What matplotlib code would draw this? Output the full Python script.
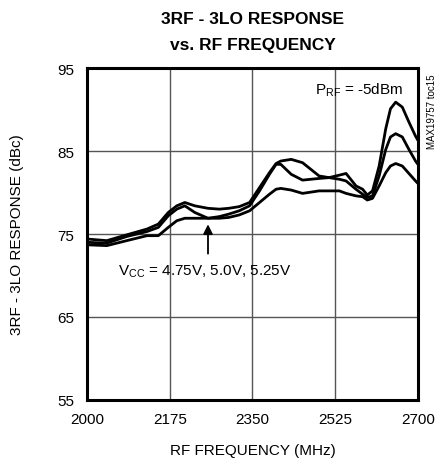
import matplotlib.pyplot as plt
import numpy as np

plt.rcParams['font.family'] = ['Liberation Sans Narrow', 'Liberation Sans', 'DejaVu Sans']

freq = [2000, 2042, 2084, 2127, 2151, 2172, 2190, 2207, 2228, 2256, 2280, 2300,
        2322, 2344, 2365, 2386, 2400, 2410, 2432, 2456, 2491, 2512, 2534, 2548,
        2569, 2583, 2593, 2604, 2618, 2632, 2642, 2653, 2667, 2681, 2695, 2700]
resp_a = [74.4, 74.2, 74.9, 75.6, 76.2, 77.6, 78.4, 78.8, 78.4, 78.1, 78.0, 78.1,
          78.3, 78.8, 80.6, 82.4, 83.5, 83.8, 84.0, 83.6, 82.0, 81.8, 82.1, 82.3,
          80.8, 80.4, 79.7, 80.2, 83.2, 87.7, 90.1, 90.9, 90.3, 88.5, 86.8, 86.3]
resp_b = [74.0, 73.9, 74.7, 75.3, 75.8, 77.2, 78.0, 78.4, 77.6, 76.9, 77.1, 77.4,
          77.8, 78.4, 80.2, 82.2, 83.4, 83.4, 82.2, 81.5, 81.7, 81.8, 81.6, 81.4,
          80.4, 79.8, 79.4, 79.6, 82.0, 85.2, 86.7, 87.1, 86.7, 85.2, 83.8, 83.4]
resp_c = [73.7, 73.6, 74.2, 74.8, 74.8, 75.8, 76.6, 76.9, 76.9, 76.9, 76.9, 77.0,
          77.3, 77.8, 78.8, 79.8, 80.4, 80.5, 80.3, 79.9, 80.2, 80.2, 80.2, 79.9,
          79.6, 79.5, 79.1, 79.3, 80.8, 82.4, 83.2, 83.5, 83.2, 82.3, 81.4, 81.1]

fig = plt.figure(figsize=(4.46, 4.64), dpi=100)
ax = fig.add_axes([0.195, 0.136, 0.742, 0.715])

for r in (resp_a, resp_b, resp_c):
    ax.plot(freq, r, color='black', lw=2.0, solid_joinstyle='round',
            solid_capstyle='round')

ax.set_xlim(2000, 2700)
ax.set_ylim(55, 95)
ax.set_xticks([2000, 2175, 2350, 2525, 2700])
ax.set_yticks([55, 65, 75, 85, 95])
ax.grid(True, color='#555555', lw=1.0)
ax.tick_params(length=0, labelsize=11, pad=9)
for s in ax.spines.values():
    s.set_linewidth(2.2)

ax.set_xlabel("RF FREQUENCY (MHz)", fontsize=11, labelpad=12)
ax.set_ylabel("3RF - 3LO RESPONSE (dBc)", fontsize=11, labelpad=24)
fig.text(0.567, 0.958, "3RF - 3LO RESPONSE", ha='center', va='center',
         fontsize=12.5, fontweight='bold')
fig.text(0.567, 0.902, "vs. RF FREQUENCY", ha='center', va='center',
         fontsize=12.5, fontweight='bold')

ax.annotate("", xy=(2256, 76.5), xytext=(2256, 72.3),
            arrowprops=dict(arrowstyle='-|>', color='black', lw=1.3,
                            mutation_scale=14))
ax.text(2250, 70.6, "V$_{\\mathregular{CC}}$ = 4.75V, 5.0V, 5.25V",
        ha='center', va='center', fontsize=11)
ax.text(2670, 92.5, "P$_{\\mathregular{RF}}$ = -5dBm", ha='right', va='center',
        fontsize=11)
fig.text(0.968, 0.76, "MAX19757 toc15", rotation=90, ha='center', va='center',
         fontsize=7)

fig.savefig("out.png", dpi=100)
